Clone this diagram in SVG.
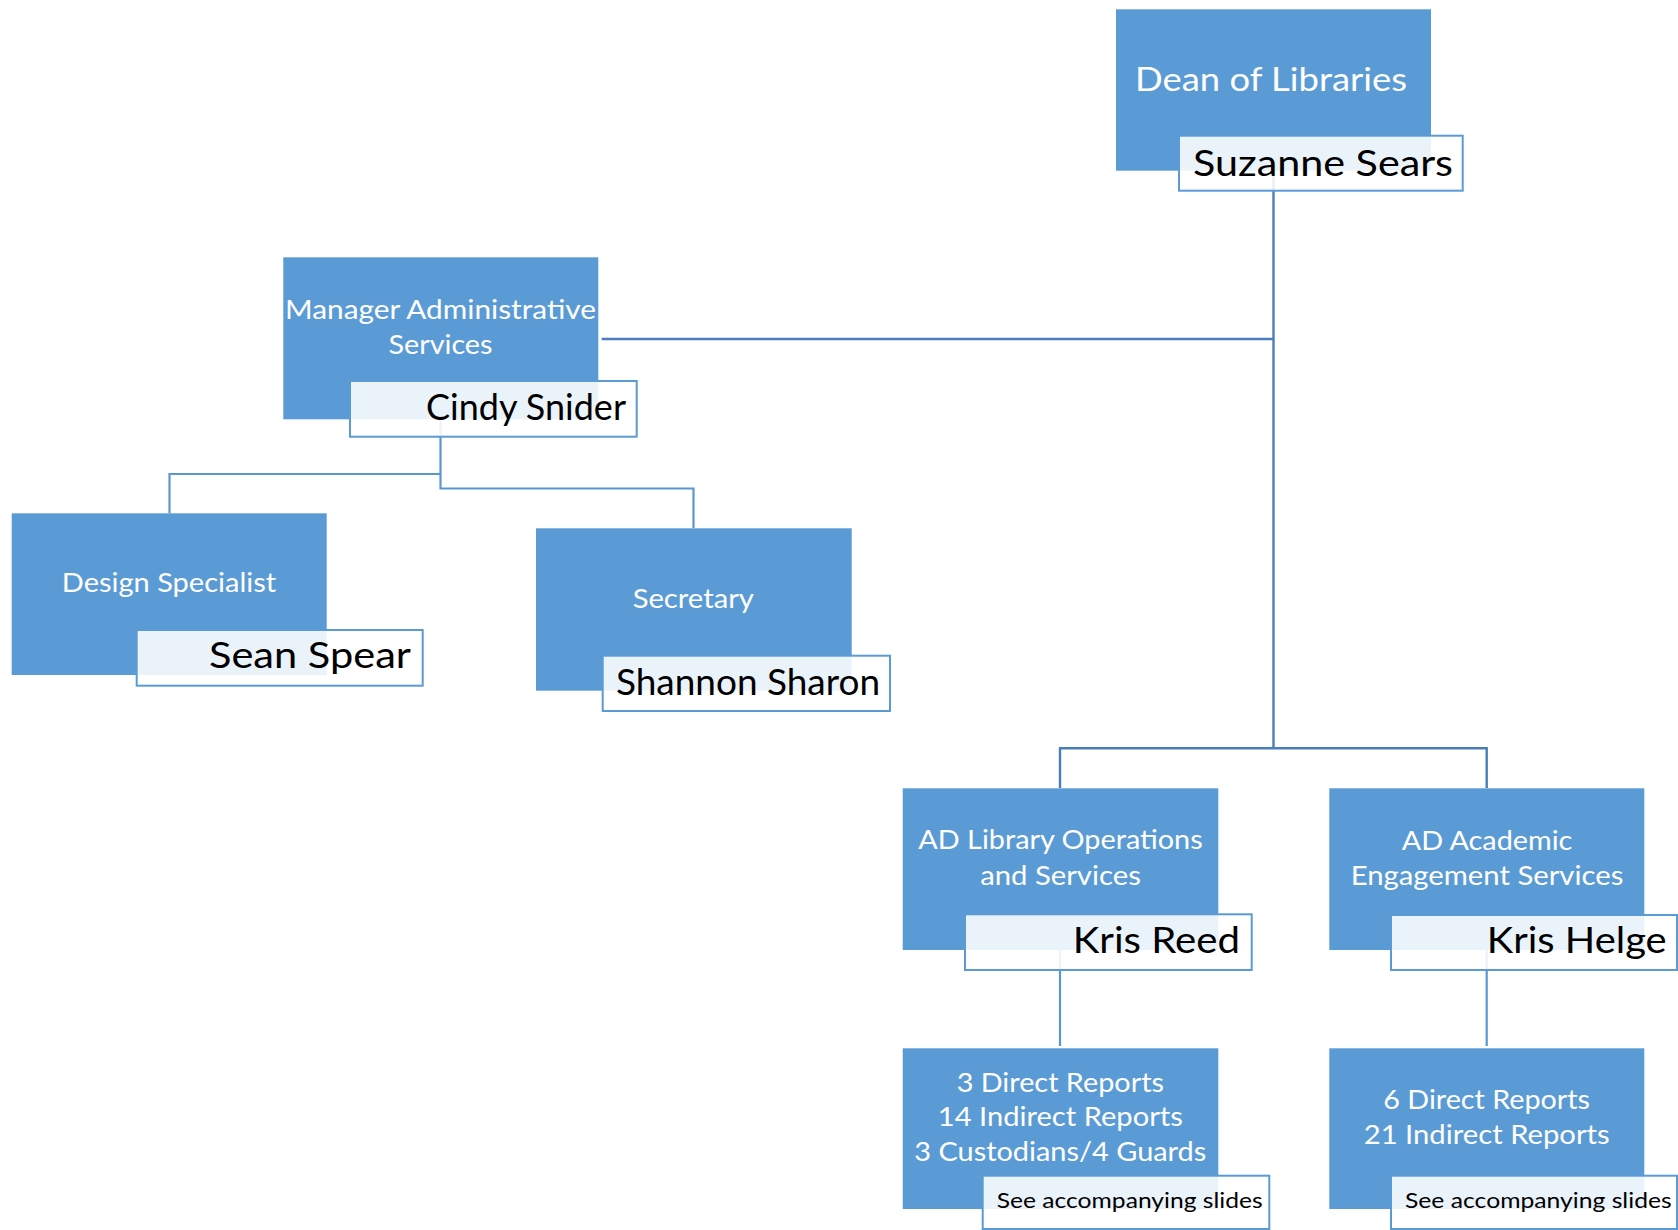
<svg xmlns="http://www.w3.org/2000/svg" width="1678" height="1230" viewBox="0 0 1678 1230">
<style>
.box{fill:#5B9BD5}
.name{fill:#FFFFFF;fill-opacity:0.88;stroke:#5B9BD5;stroke-width:2}
.t{font-family:Lato,"Liberation Sans",sans-serif;fill:#FFFFFF;text-anchor:middle;font-size:26.5px}
.td{font-size:33px}
.n{font-family:Lato,"Liberation Sans",sans-serif;fill:#000000;text-anchor:end;font-size:37px}
.s{font-size:21.7px}
.c1{stroke:#4A7EBB;stroke-width:2.4;fill:none}
.c2{stroke:#5B97D2;stroke-width:2.2;fill:none}
</style>
<rect width="1678" height="1230" fill="#FFFFFF"/>
<g id="connectors">
<path class="c1" d="M1273.5,170 V748.3"/>
<path class="c1" d="M1060,788 V748.3 H1486.7 V788"/>
<path class="c1" d="M601.7,339 H1273.5"/>
<path class="c2" d="M440.5,419 V488.5 H693.5 V528"/>
<path class="c2" d="M440.5,474 H169.5 V513"/>
<path class="c2" d="M1060,950 V1046"/>
<path class="c2" d="M1486.7,950 V1046"/>
</g>
<g id="dean">
<rect class="box" x="1116" y="9.3" width="315" height="161.4"/>
<text class="t td" x="1271" y="90.7" textLength="272" lengthAdjust="spacingAndGlyphs">Dean of Libraries</text>
<rect class="name" x="1179" y="135.7" width="283.7" height="55"/>
<text class="n" x="1453" y="175.7" textLength="260" lengthAdjust="spacingAndGlyphs">Suzanne Sears</text>
</g>
<g id="manager">
<rect class="box" x="283.3" y="257.3" width="315" height="162"/>
<text class="t" x="440.5" y="319.3" textLength="311" lengthAdjust="spacingAndGlyphs">Manager Administrative</text>
<text class="t" x="440.5" y="354.3" textLength="104" lengthAdjust="spacingAndGlyphs">Services</text>
<rect class="name" x="350" y="381" width="286.7" height="55.7"/>
<text class="n" x="626" y="420" textLength="200" lengthAdjust="spacingAndGlyphs">Cindy Snider</text>
</g>
<g id="design">
<rect class="box" x="11.7" y="513.3" width="315" height="161.7"/>
<text class="t" x="169" y="592.3" textLength="214.3" lengthAdjust="spacingAndGlyphs">Design Specialist</text>
<rect class="name" x="136.7" y="630" width="286" height="55.7"/>
<text class="n" x="411" y="668.3" textLength="202" lengthAdjust="spacingAndGlyphs">Sean Spear</text>
</g>
<g id="secretary">
<rect class="box" x="536" y="528.3" width="315.7" height="162.4"/>
<text class="t" x="693.3" y="608.3" textLength="121.3" lengthAdjust="spacingAndGlyphs">Secretary</text>
<rect class="name" x="602.7" y="655.7" width="287.3" height="55.3"/>
<text class="n" x="880" y="695" textLength="264" lengthAdjust="spacingAndGlyphs">Shannon Sharon</text>
</g>
<g id="ad-library">
<rect class="box" x="902.7" y="788.3" width="315.6" height="161.7"/>
<text class="t" x="1060.5" y="849.3" textLength="284.3" lengthAdjust="spacingAndGlyphs">AD Library Operations</text>
<text class="t" x="1060.5" y="885" textLength="160.7" lengthAdjust="spacingAndGlyphs">and Services</text>
<rect class="name" x="965" y="914.3" width="286.7" height="55.7"/>
<text class="n" x="1240" y="953.3" textLength="167.3" lengthAdjust="spacingAndGlyphs">Kris Reed</text>
</g>
<g id="ad-academic">
<rect class="box" x="1329.3" y="788.3" width="315" height="161.7"/>
<text class="t" x="1487" y="849.7" textLength="170.7" lengthAdjust="spacingAndGlyphs">AD Academic</text>
<text class="t" x="1487" y="885" textLength="272.7" lengthAdjust="spacingAndGlyphs">Engagement Services</text>
<rect class="name" x="1391" y="915" width="286" height="55"/>
<text class="n" x="1666.7" y="953.3" textLength="180" lengthAdjust="spacingAndGlyphs">Kris Helge</text>
</g>
<g id="reports-library">
<rect class="box" x="902.7" y="1048.3" width="315.6" height="160.7"/>
<text class="t" x="1060.3" y="1091.7" textLength="207.3" lengthAdjust="spacingAndGlyphs">3 Direct Reports</text>
<text class="t" x="1060.3" y="1126" textLength="245" lengthAdjust="spacingAndGlyphs">14 Indirect Reports</text>
<text class="t" x="1060.3" y="1160.7" textLength="292" lengthAdjust="spacingAndGlyphs">3 Custodians/4 Guards</text>
<rect class="name" x="982.7" y="1175.7" width="286.6" height="53.3"/>
<text class="n s" x="1262.7" y="1208.3" textLength="266" lengthAdjust="spacingAndGlyphs">See accompanying slides</text>
</g>
<g id="reports-academic">
<rect class="box" x="1329.3" y="1048.3" width="315" height="160.7"/>
<text class="t" x="1486.7" y="1109.3" textLength="206.7" lengthAdjust="spacingAndGlyphs">6 Direct Reports</text>
<text class="t" x="1486.7" y="1144" textLength="246" lengthAdjust="spacingAndGlyphs">21 Indirect Reports</text>
<rect class="name" x="1391" y="1175.7" width="286" height="53.3"/>
<text class="n s" x="1671.7" y="1208.3" textLength="266.7" lengthAdjust="spacingAndGlyphs">See accompanying slides</text>
</g>
</svg>
